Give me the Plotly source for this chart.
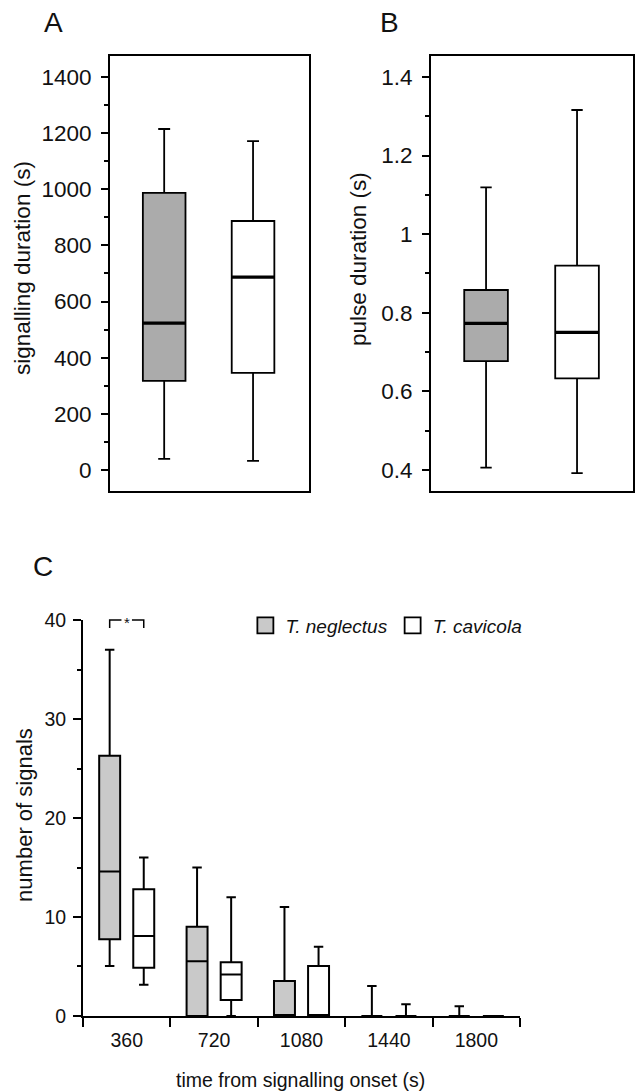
import plotly.graph_objects as go

# ---------------- data ----------------
species = ["T. neglectus", "T. cavicola"]

# Panel A: signalling duration (s)  [lower, q1, median, q3, upper]
a_neglectus = [39, 317, 523, 987, 1215]
a_cavicola = [32, 346, 687, 887, 1172]

# Panel B: pulse duration (s)
b_neglectus = [0.406, 0.677, 0.773, 0.858, 1.119]
b_cavicola = [0.392, 0.633, 0.750, 0.920, 1.316]

# Panel C: number of signals per time bin
c_bins = ["360", "720", "1080", "1440", "1800"]
c_neg_lower = [5.05, 0, 0, 0, 0]
c_neg_q1 = [7.75, 0, 0, 0, 0]
c_neg_med = [14.6, 5.52, 0, 0, 0]
c_neg_q3 = [26.3, 9.02, 3.54, 0, 0]
c_neg_upper = [37.0, 15.0, 11.0, 3.03, 0.98]

c_cav_lower = [3.16, 0, 0, 0, 0]
c_cav_q1 = [4.88, 1.62, 0, 0, 0]
c_cav_med = [8.08, 4.18, 0.1, 0, 0]
c_cav_q3 = [12.8, 5.42, 5.05, 0, 0]
c_cav_upper = [16.0, 12.0, 7.0, 1.18, 0]

a_ticks = [0, 200, 400, 600, 800, 1000, 1200, 1400]
b_ticks = [0.4, 0.6, 0.8, 1.0, 1.2, 1.4]
b_ticktext = ["0.4", "0.6", "0.8", "1", "1.2", "1.4"]
c_ticks = [0, 10, 20, 30, 40]

# ---------------- style ----------------
FONT = "Liberation Sans, Arial, sans-serif"
GRAY_AB = "#ababab"
GRAY_C = "#c9c9c9"

fig = go.Figure()


def stat_box(vals, x, color, xaxis, yaxis, wwidth, group, lw=1.8):
    lo, q1, med, q3, up = vals
    fig.add_trace(go.Box(
        x=[x], q1=[q1], median=[med], q3=[q3], lowerfence=[lo], upperfence=[up],
        fillcolor=color, line=dict(color="black", width=lw), whiskerwidth=wwidth,
        xaxis=xaxis, yaxis=yaxis, alignmentgroup=group, offsetgroup=group,
        showlegend=False, boxpoints=False, hoverinfo="skip"))
    # thicker median line
    fig.add_trace(go.Box(
        x=[x], q1=[med], median=[med], q3=[med], lowerfence=[med], upperfence=[med],
        fillcolor="rgba(0,0,0,0)", line=dict(color="black", width=3.2), whiskerwidth=0,
        xaxis=xaxis, yaxis=yaxis, alignmentgroup=group, offsetgroup=group,
        showlegend=False, boxpoints=False, hoverinfo="skip"))


stat_box(a_neglectus, 0, GRAY_AB, "x", "y", 0.28, "A")
stat_box(a_cavicola, 1, "white", "x", "y", 0.28, "A")
stat_box(b_neglectus, 0, GRAY_AB, "x2", "y2", 0.26, "B")
stat_box(b_cavicola, 1, "white", "x2", "y2", 0.26, "B")

fig.add_trace(go.Box(
    name=species[0], x=c_bins, q1=c_neg_q1, median=c_neg_med, q3=c_neg_q3,
    lowerfence=c_neg_lower, upperfence=c_neg_upper, fillcolor=GRAY_C,
    line=dict(color="black", width=2), whiskerwidth=0.45,
    alignmentgroup="C", offsetgroup="Cn", legendgroup="n", showlegend=False,
    xaxis="x3", yaxis="y3", boxpoints=False, hoverinfo="skip"))
fig.add_trace(go.Box(
    name=species[1], x=c_bins, q1=c_cav_q1, median=c_cav_med, q3=c_cav_q3,
    lowerfence=c_cav_lower, upperfence=c_cav_upper, fillcolor="white",
    line=dict(color="black", width=2), whiskerwidth=0.45,
    alignmentgroup="C", offsetgroup="Cc", legendgroup="c", showlegend=False,
    xaxis="x3", yaxis="y3", boxpoints=False, hoverinfo="skip"))

# legend entries (square swatches)
for name, col, grp in [(species[0], GRAY_C, "n"), (species[1], "white", "c")]:
    fig.add_trace(go.Scatter(
        x=[None], y=[None], mode="markers", name=name, legendgroup=grp,
        marker=dict(symbol="square", size=16, color=col,
                    line=dict(color="black", width=1.8)),
        xaxis="x3", yaxis="y3", hoverinfo="skip"))

frame = dict(showline=True, linecolor="black", linewidth=1.8, mirror=True,
             showgrid=False, zeroline=False, automargin=False)

fig.update_layout(
    width=639, height=1092,
    margin=dict(l=0, r=0, t=0, b=0),
    paper_bgcolor="white", plot_bgcolor="white",
    font=dict(family=FONT, color="#111", size=20),
    boxmode="group", boxgap=0.22, boxgroupgap=0.385,
    xaxis=dict(domain=[0.1721, 0.4836], range=[-0.61, 1.63], anchor="y",
               showticklabels=False, ticks="", **frame),
    yaxis=dict(domain=[0.5504, 0.9487], range=[-75, 1475], anchor="x",
               tickvals=a_ticks, ticks="outside", ticklen=7, tickwidth=1.6,
               tickcolor="black", tickfont=dict(size=22.5), ticklabelstandoff=5,
               minor=dict(dtick=100, tick0=0, ticks="outside", ticklen=4,
                          tickwidth=1.6, tickcolor="black"), **frame),
    xaxis2=dict(domain=[0.6745, 0.9906], range=[-0.605, 1.615], anchor="y2",
                showticklabels=False, ticks="", **frame),
    yaxis2=dict(domain=[0.5504, 0.9487], range=[0.3466, 1.4534], anchor="x2",
                tickvals=b_ticks, ticktext=b_ticktext, ticks="outside", ticklen=7,
                tickwidth=1.6, tickcolor="black", tickfont=dict(size=22.5),
                ticklabelstandoff=5,
                minor=dict(tickmode="array", tickvals=[0.5, 0.7, 0.9, 1.1, 1.3],
                           ticks="outside", ticklen=4, tickwidth=1.6, tickcolor="black"),
                **frame),
    xaxis3=dict(domain=[0.1299, 0.8138], anchor="y3", type="category",
                categoryorder="array", categoryarray=c_bins, range=[-0.5, 4.5],
                tickson="boundaries", ticks="outside", ticklen=9, tickwidth=2,
                tickcolor="black", showline=True, linecolor="black", linewidth=2,
                showgrid=False, zeroline=False, automargin=False,
                tickfont=dict(size=19.5), ticklabelstandoff=6),
    yaxis3=dict(domain=[0.0696, 0.4322], anchor="x3", range=[0, 40],
                tickvals=c_ticks, ticks="outside", ticklen=8, tickwidth=2,
                tickcolor="black", showline=True, linecolor="black", linewidth=2,
                showgrid=False, zeroline=False, automargin=False,
                tickfont=dict(size=19.5), ticklabelstandoff=3,
                minor=dict(dtick=5, tick0=0, ticks="outside", ticklen=4,
                           tickwidth=2, tickcolor="black")),
    legend=dict(orientation="h", x=0.384, y=0.4445, xanchor="left", yanchor="top",
                font=dict(size=19, style="italic"), itemsizing="trace",
                bgcolor="rgba(0,0,0,0)", itemclick=False, itemdoubleclick=False),
)

ann = [
    dict(text="A", x=0.0845, y=0.979),
    dict(text="B", x=0.6088, y=0.979),
    dict(text="C", x=0.0673, y=0.4808),
]
for a in ann:
    fig.add_annotation(text=a["text"], x=a["x"], y=a["y"], xref="paper", yref="paper",
                       showarrow=False, font=dict(size=28, family=FONT),
                       xanchor="center", yanchor="middle")

titles = [
    dict(text="signalling duration (s)", x=0.036, y=0.7546, angle=-90, size=22.5),
    dict(text="pulse duration (s)", x=0.5603, y=0.7628, angle=-90, size=22.5),
    dict(text="number of signals", x=0.039, y=0.2537, angle=-90, size=22),
    dict(text="time from signalling onset (s)", x=0.4695, y=0.011, angle=0, size=19.5),
]
for t in titles:
    fig.add_annotation(text=t["text"], x=t["x"], y=t["y"], xref="paper", yref="paper",
                       showarrow=False, textangle=t["angle"],
                       font=dict(size=t["size"], family=FONT),
                       xanchor="center", yanchor="middle")

# significance bracket between the two 360 s boxes
fig.add_shape(type="path", xref="x3", yref="paper",
              path="M -0.195,0.4249 L -0.195,0.4322 L -0.06,0.4322 M 0.06,0.4322 L 0.195,0.4322 L 0.195,0.4249",
              line=dict(color="black", width=1.5))
fig.add_annotation(text="*", x=0, y=0.4300, xref="x3", yref="paper", showarrow=False,
                   font=dict(size=15, family=FONT), xanchor="center", yanchor="middle")

fig.write_html("out.html", config={"displayModeBar": False},
               post_script="document.body.style.margin='0';")
